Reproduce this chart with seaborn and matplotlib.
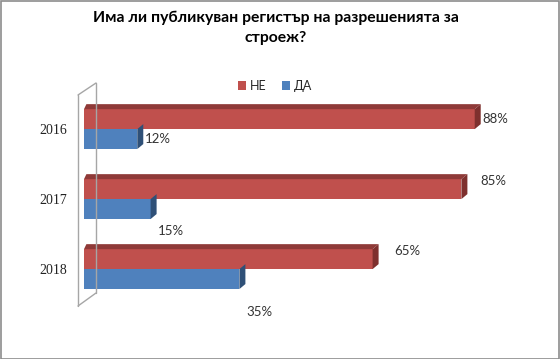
import numpy as np
import pandas as pd
import matplotlib
matplotlib.use("Agg")
import matplotlib.pyplot as plt
import seaborn as sns
from matplotlib.patches import Polygon, Patch, Rectangle
from matplotlib.lines import Line2D

# data
years = ["2016", "2017", "2018"]
series = ["НЕ", "ДА"]
ne_vals = [88, 85, 65]
da_vals = [12, 15, 35]

title = "Има ли публикуван регистър на разрешенията за\nстроеж?"

# colours (office style) and darker shades for the fake 3D faces
colors = {"НЕ": "#C0504D", "ДА": "#4F81BD"}
top_col = {"НЕ": "#8F3A38", "ДА": "#3A6291"}
side_col = {"НЕ": "#7E302E", "ДА": "#2F5077"}

# label offsets (points) per year, as placed in the reference
ne_off = [(1, 0), (9, 6), (11, 6)]
da_off = [(1, 0), (1, -16), (1, -24)]

df = pd.DataFrame({
    "year": years * 2,
    "pct": ne_vals + da_vals,
    "answer": [series[0]] * 3 + [series[1]] * 3,
})

sns.set_style("white")
plt.rcParams["font.family"] = ["Lato", "DejaVu Sans"]

W, H = 560, 359
fig = plt.figure(figsize=(W / 100, H / 100), dpi=100)
ax = fig.add_axes([84 / W, 1 - 302 / H, 444 / W, 210 / H])

sns.barplot(data=df, y="year", x="pct", hue="answer", orient="h",
            palette=colors, width=0.57, saturation=1, ax=ax, legend=False,
            edgecolor="none")

ax.set_xlim(0, 100)
ax.set_ylim(2.47, -0.53)
ax.set_xlabel("")
ax.set_ylabel("")
ax.set_xticks([])
for s in ax.spines.values():
    s.set_visible(False)
ax.tick_params(axis="y", length=0, pad=12)
for t in ax.get_yticklabels():
    t.set_fontfamily("Liberation Serif")
    t.set_fontsize(10)
    t.set_color("#222222")

# depth of the 3D look, in data units (6 px right, 5 px up)
dx = 6 * 100 / 444
dy = 5 / 70

bars = list(ax.patches)
faces = []
for i, p in enumerate(bars):
    key = series[i // 3]
    x0 = p.get_x()
    x1 = x0 + p.get_width()
    ytop = p.get_y()
    ybot = ytop + p.get_height()
    if key == "НЕ":
        faces.append(Polygon([(x0, ytop), (x1, ytop), (x1 + dx, ytop - dy), (x0 + dx * 0.4, ytop - dy)],
                             closed=True, facecolor=top_col[key], edgecolor="none"))
    faces.append(Polygon([(x1, ytop), (x1 + dx, ytop - dy), (x1 + dx, ybot - dy), (x1, ybot)],
                         closed=True, facecolor=side_col[key], edgecolor="none"))
for f in faces:
    ax.add_patch(f)

# value labels
for i, p in enumerate(bars):
    j = i % 3
    val = (ne_vals + da_vals)[i]
    off = ne_off[j] if i < 3 else da_off[j]
    ax.annotate(f"{val}%", (p.get_x() + p.get_width() + dx, p.get_y() + p.get_height() / 2),
                xytext=off, textcoords="offset points", ha="left", va="center",
                fontsize=9.5, color="#333333", annotation_clip=False)

# back wall outline
wall = [((78, 95), (78, 306)), ((96, 83), (96, 293)),
        ((78, 95), (96, 83)), ((78, 306), (96, 293))]
for (xa, ya), (xb, yb) in wall:
    fig.add_artist(Line2D([xa / W, xb / W], [1 - ya / H, 1 - yb / H],
                          transform=fig.transFigure, color="#A6A6A6", lw=1))

fig.text(276 / W, 1 - 28 / H, title, ha="center", va="center", fontsize=11.3,
         fontweight="bold", linespacing=1.6, color="#000000")

handles = [Patch(facecolor=colors[k], edgecolor="none") for k in series]
fig.legend(handles, series, loc="center", bbox_to_anchor=(275 / W, 1 - 86 / H),
           ncol=2, frameon=False, fontsize=9, handlelength=0.7, handleheight=0.7,
           handletextpad=0.3, columnspacing=1.2)

fig.add_artist(Rectangle((0.001, 0.001), 0.997, 0.996, transform=fig.transFigure,
                         fill=False, edgecolor="#8C8C8C", lw=1.2))

fig.savefig("out.png", dpi=100)
